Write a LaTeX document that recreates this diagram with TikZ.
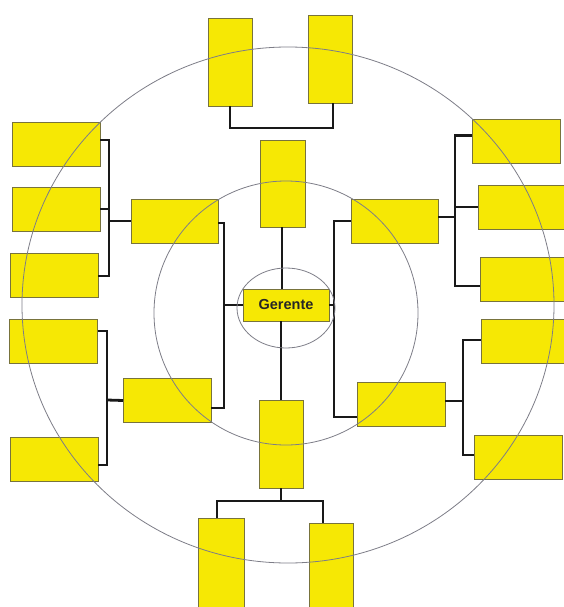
\documentclass[tikz,border=0pt]{standalone}
\usepackage{fontspec}
\setmainfont{Liberation Sans}
\definecolor{boxfill}{RGB}{246,232,4}
\definecolor{boxline}{RGB}{120,115,60}
\definecolor{ringcol}{RGB}{125,125,135}
\definecolor{linkcol}{RGB}{25,25,25}
\tikzset{
  box/.style={draw=boxline, fill=boxfill, line width=0.9pt, inner sep=0pt, outer sep=0pt},
  hbox/.style={box, minimum width=88pt, minimum height=44pt},
  vbox/.style={box, minimum width=44pt, minimum height=88pt},
  link/.style={draw=linkcol, line width=2.8pt, line cap=butt, line join=miter},
  ring/.style={draw=ringcol, line width=0.8pt}
}
\begin{document}
\begin{tikzpicture}[x=1pt, y=-1pt]
\useasboundingbox (0,0) rectangle (564,607);
\clip (0,0) rectangle (564,607);
% top pair
\node[vbox] (t1) at (230,62.5) {};
\node[vbox] (t2) at (330,59) {};
% centre column
\node[vbox, minimum width=45pt, minimum height=87pt] (ct) at (282.5,183.5) {};
\node[vbox] (cb) at (281,444) {};
\node[box, minimum width=86pt, minimum height=32pt, font=\bfseries\fontsize{14.5}{17}\selectfont, text=black!85] (ger) at (286,305) {Gerente};
% bottom pair
\node[vbox, minimum width=46pt, minimum height=92pt] (b1) at (221,564) {};
\node[vbox, minimum height=88pt] (b2) at (331,567) {};
% left column
\node[hbox] (l1) at (56,144.5) {};
\node[hbox] (l2) at (56,209) {};
\node[hbox] (l3) at (54,275.5) {};
\node[hbox] (l4) at (53.5,341) {};
\node[hbox] (l5) at (54,459.5) {};
% middle boxes
\node[hbox, minimum width=87pt] (ml1) at (174.5,221) {};
\node[hbox] (ml2) at (167,400.5) {};
\node[hbox, minimum width=87pt] (mr1) at (394.5,221) {};
\node[hbox] (mr2) at (401,404) {};
% right column
\node[hbox] (r1) at (516,141.5) {};
\node[hbox] (r2) at (522,207) {};
\node[hbox] (r3) at (524,279) {};
\node[hbox] (r4) at (525,341.5) {};
\node[hbox] (r5) at (518,457) {};
% junction points
\coordinate (jtop) at (282,128);
\coordinate (jl) at (109,221);
\coordinate (jl2) at (107,400);
\coordinate (jcl) at (224,305);
\coordinate (jcr) at (334,305);
\coordinate (jr) at (455,217);
\coordinate (jr2) at (463,401);
\coordinate (jb) at (281,501);
% connectors
\draw[link] (t1.south) |- (jtop) -| ([xshift=3pt]t2.south);
\draw[link] ([yshift=4.5pt]l1.east) -| (jl) |- ([yshift=-0.5pt]l3.east);
\draw[link] (l2.east) -- (l2.east -| jl);
\draw[link] (jl) -- (ml1.west);
\draw[link] ([yshift=10pt]l4.east) -| (jl2) |- ([yshift=-5.5pt]l5.east);
\draw[link] (jl2) -- (ml2.west);
\draw[link] ([yshift=-2pt]ml1.east) -| (jcl) |- ([yshift=-7.5pt]ml2.east);
\draw[link] (mr1.west) -| (jcr) |- ([yshift=-13pt]mr2.west);
\draw[link] (jcl) -- (jcl -| ger.west);
\draw[link] (jcr -| ger.east) -- (jcr);
\draw[link] ([yshift=6pt]r1.west) -| (jr) |- ([yshift=-7pt]r3.west);
\draw[link] (r2.west) -- (r2.west -| jr);
\draw[link] ([yshift=4pt]mr1.east) -- ([yshift=4pt]mr1.east -| jr);
\draw[link] ([yshift=1.5pt]r4.west) -| (jr2) |- ([yshift=2pt]r5.west);
\draw[link] ([yshift=3pt]mr2.east) -- ([yshift=3pt]mr2.east -| jr2);
\draw[link] ([xshift=-0.5pt]ct.south) -- ([xshift=-0.5pt]ct.south |- ger.north);
\draw[link] (cb.north |- ger.south) -- (cb.north);
\draw[link] (cb.south) -- (jb);
\draw[link] ([xshift=-4pt]b1.north) |- (jb) -| ([xshift=-8pt]b2.north);
% rings
\draw[ring] (288,305) ellipse [x radius=266, y radius=258];
\draw[ring] (286,313) circle [radius=132];
\draw[ring] (286,308) ellipse [x radius=49, y radius=40];
\end{tikzpicture}
\end{document}
